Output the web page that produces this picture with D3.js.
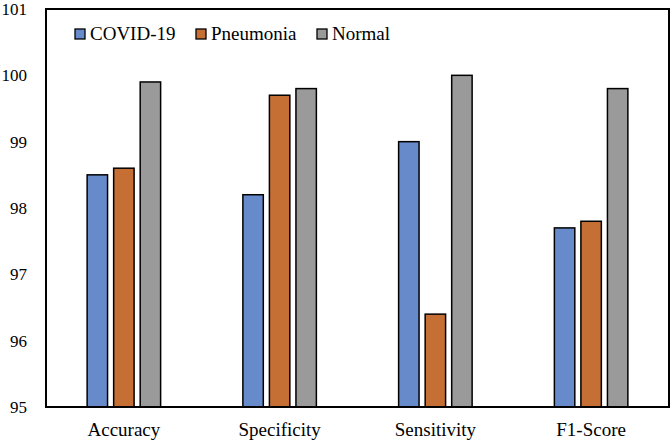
<!DOCTYPE html>
<html><head><meta charset="utf-8">
<script src="https://cdn.jsdelivr.net/npm/d3@7"></script>
<style>body{margin:0;background:#fff}</style>
</head><body>
<script>
const categories = ["Accuracy", "Specificity", "Sensitivity", "F1-Score"];
const seriesNames = ["COVID-19", "Pneumonia", "Normal"];
const covid = [98.5, 98.2, 99.0, 97.7];
const pneumonia = [98.6, 99.7, 96.4, 97.8];
const normal = [99.9, 99.8, 100.0, 99.8];
const yTicks = [95, 96, 97, 98, 99, 100, 101];
const colors = ["#678ACB", "#C66F35", "#9A9A9A"];

const series = [covid, pneumonia, normal];
const W = 672, H = 444;
const m = {l: 46, r: 3, t: 9, b: 37};

const svg = d3.select("body").append("svg").attr("width", W).attr("height", H)
  .attr("font-family", "Liberation Serif");
const x = d3.scaleBand().domain(categories).range([m.l, W - m.r]).paddingInner(0).paddingOuter(0);
const y = d3.scaleLinear().domain([95, 101]).range([H - m.b, m.t]);
const x1 = d3.scaleBand().domain(seriesNames).range([0, x.bandwidth()]).paddingInner(0.23).paddingOuter(1.55);

const g = svg.append("g");
categories.forEach((c, i) => {
  seriesNames.forEach((s, j) => {
    const v = series[j][i];
    g.append("rect")
      .attr("x", x(c) + x1(s))
      .attr("y", y(v))
      .attr("width", x1.bandwidth())
      .attr("height", y(95) - y(v))
      .attr("fill", colors[j])
      .attr("stroke", "#000").attr("stroke-width", 1.5);
  });
});

// frame
svg.append("rect").attr("x", m.l).attr("y", m.t)
  .attr("width", W - m.r - m.l).attr("height", H - m.b - m.t)
  .attr("fill", "none").attr("stroke", "#000").attr("stroke-width", 2);

// y axis
const ya = svg.append("g").attr("transform", `translate(${m.l},0)`)
  .call(d3.axisLeft(y).tickValues(yTicks).tickSize(0).tickPadding(19).tickFormat(d3.format("d")));
ya.attr("font-family", "Liberation Serif").attr("font-size", 17);
ya.select(".domain").remove();
ya.selectAll("text").attr("fill", "#000");

// x axis
const xa = svg.append("g").attr("transform", `translate(0,${H - m.b})`)
  .call(d3.axisBottom(x).tickSize(0).tickPadding(16));
xa.attr("font-family", "Times New Roman").attr("font-size", 19);
xa.select(".domain").remove();
xa.selectAll("text").attr("fill", "#000");

// legend
const legX = [75, 196, 317];
seriesNames.forEach((s, j) => {
  const lg = svg.append("g").attr("transform", `translate(${legX[j]},29)`);
  lg.append("rect").attr("width", 10).attr("height", 10).attr("fill", colors[j])
    .attr("stroke", "#000").attr("stroke-width", 1.3);
  lg.append("text").attr("x", 15).attr("y", 11).text(s)
    .attr("font-family", "Liberation Serif").attr("font-size", 19).attr("fill", "#000");
});
</script>
</body></html>
